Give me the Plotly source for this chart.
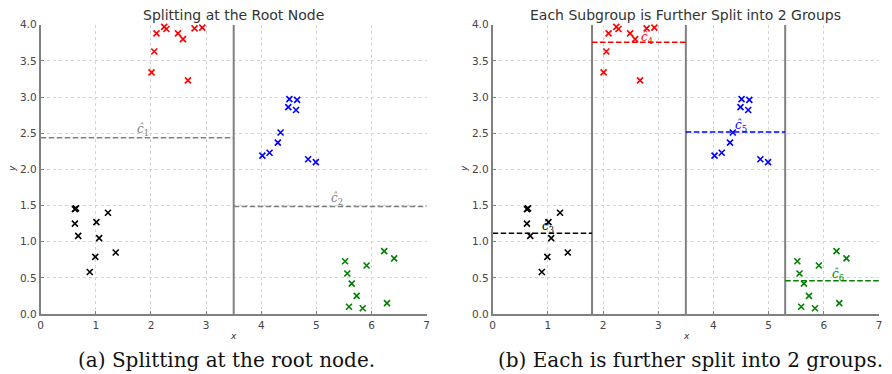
import numpy as np
import plotly.graph_objects as go

# ---- data ----
red_x = [2.01, 2.06, 2.10, 2.24, 2.28, 2.49, 2.58, 2.67, 2.79, 2.93]
red_y = [3.34, 3.63, 3.88, 3.97, 3.94, 3.88, 3.80, 3.23, 3.95, 3.96]
blue_x = [4.02, 4.15, 4.30, 4.35, 4.51, 4.65, 4.49, 4.63, 4.85, 4.99]
blue_y = [2.19, 2.23, 2.37, 2.51, 2.97, 2.96, 2.86, 2.82, 2.14, 2.10]
black_x = [0.62, 0.64, 0.62, 0.68, 1.01, 1.06, 1.22, 0.99, 0.89, 1.36]
black_y = [1.45, 1.46, 1.25, 1.08, 1.27, 1.05, 1.40, 0.79, 0.58, 0.85]
green_x = [5.52, 5.56, 5.64, 5.73, 5.59, 5.84, 5.91, 6.23, 6.41, 6.28]
green_y = [0.73, 0.56, 0.42, 0.25, 0.10, 0.08, 0.67, 0.87, 0.77, 0.15]

root_split = 3.5
child_splits = [1.8, 5.3]
x_ticks = [0, 1, 2, 3, 4, 5, 6, 7]
y_ticks = [0.0, 0.5, 1.0, 1.5, 2.0, 2.5, 3.0, 3.5, 4.0]
titles = ["Splitting at the Root Node", "Each Subgroup is Further Split into 2 Groups"]
captions = ["(a) Splitting at the root node.", "(b) Each is further split into 2 groups."]

# derived region means
c1 = float(np.mean(red_y + black_y))
c2 = float(np.mean(blue_y + green_y))
c3 = float(np.mean(black_y))
c4 = float(np.mean(red_y))
c5 = float(np.mean(blue_y))
c6 = float(np.mean(green_y))

fig = go.Figure()

groups = [(red_x, red_y, "#ff0000"), (blue_x, blue_y, "#0000ff"),
          (black_x, black_y, "#000000"), (green_x, green_y, "#008000")]

DASH = "5.5px,2.5px"

def vline(x, xa, ya):
    fig.add_trace(go.Scatter(x=[x, x], y=[0, 4], mode="lines", xaxis=xa, yaxis=ya,
                             line=dict(color="#808080", width=2),
                             showlegend=False, hoverinfo="skip"))

def hline(x0, x1, y, col, xa, ya):
    fig.add_trace(go.Scatter(x=[x0, x1], y=[y, y], mode="lines", xaxis=xa, yaxis=ya,
                             line=dict(color=col, width=1.5, dash=DASH),
                             showlegend=False, hoverinfo="skip"))

# left panel
vline(root_split, "x", "y")
hline(0, root_split, c1, "#808080", "x", "y")
hline(root_split, 7, c2, "#808080", "x", "y")
# right panel
vline(child_splits[0], "x2", "y2")
vline(root_split, "x2", "y2")
vline(child_splits[1], "x2", "y2")
hline(0, child_splits[0], c3, "#000000", "x2", "y2")
hline(child_splits[0], root_split, c4, "#ff0000", "x2", "y2")
hline(root_split, child_splits[1], c5, "#0000ff", "x2", "y2")
hline(child_splits[1], 7, c6, "#008000", "x2", "y2")

for ax in ["", "2"]:
    xa, ya = "x" + ax, "y" + ax
    for gx, gy, col in groups:
        fig.add_trace(go.Scatter(x=gx, y=gy, mode="markers", xaxis=xa, yaxis=ya,
                                 marker=dict(symbol="x-thin", size=6,
                                             line=dict(width=1.6, color=col), color=col),
                                 showlegend=False, hoverinfo="skip", cliponaxis=False))

# page has an 8px body margin: figure is 884x366 placed at (8, 8)
OFF = 8
W, H = 892 - OFF, 374 - OFF

def px(x):
    return (x - OFF) / W

def py(y):
    return 1 - (y - OFF) / H

axis_common = dict(showline=True, linecolor="#808080", linewidth=2, mirror=False,
                   ticks="inside", ticklen=3, tickcolor="#808080",
                   showgrid=True, gridcolor="#d4d4d4", griddash="dot", gridwidth=1,
                   zeroline=False, automargin=False,
                   tickfont=dict(family="DejaVu Sans", size=10.5, color="#444444"))
ydom = [py(314), py(24.7)]
fig.update_layout(
    width=W, height=H, margin=dict(l=0, r=0, t=0, b=0, pad=0, autoexpand=False),
    paper_bgcolor="white", plot_bgcolor="white",
    xaxis=dict(domain=[px(40.7), px(426.7)], range=[0, 7], tickvals=x_ticks,
               ticktext=[str(v) for v in x_ticks], anchor="y", **axis_common),
    yaxis=dict(domain=ydom, range=[0, 4], tickvals=y_ticks,
               ticktext=[f"{v:.1f}" for v in y_ticks], anchor="x", **axis_common),
    xaxis2=dict(domain=[px(492.7), px(879)], range=[0, 7], tickvals=x_ticks,
                ticktext=[str(v) for v in x_ticks], anchor="y2", **axis_common),
    yaxis2=dict(domain=ydom, range=[0, 4], tickvals=y_ticks,
                ticktext=[f"{v:.1f}" for v in y_ticks], anchor="x2", **axis_common),
)

ann = []
# titles
for t, cx in zip(titles, [233.7, 685.8]):
    ann.append(dict(text=t, xref="paper", yref="paper", x=px(cx), y=py(15),
                    showarrow=False, xanchor="center", yanchor="middle", borderpad=0,
                    font=dict(family="DejaVu Sans", size=14, color="#333333")))
# axis labels
for cx in [233.0, 686.0]:
    ann.append(dict(text="<i>x</i>", xref="paper", yref="paper", x=px(cx), y=py(336),
                    showarrow=False, xanchor="center", yanchor="middle",
                    font=dict(family="DejaVu Sans", size=9, color="#333333")))
for cx in [12.0, 464.0]:
    ann.append(dict(text="<i>y</i>", xref="paper", yref="paper", x=px(cx), y=py(169),
                    showarrow=False, xanchor="center", yanchor="middle", textangle=-90,
                    font=dict(family="DejaVu Sans", size=9, color="#333333")))
# captions
for t, cx in zip(captions, [226.0, 690.0]):
    ann.append(dict(text=t, xref="paper", yref="paper", x=px(cx), y=py(360),
                    showarrow=False, xanchor="center", yanchor="middle",
                    font=dict(family="DejaVu Serif", size=20, color="#111111")))
# c-hat labels
labels = [("x", "y", 1.85, c1 + 0.1, "1", "#808080"),
          ("x", "y", 5.37, c2 + 0.1, "2", "#808080"),
          ("x2", "y2", 1.01, c3 + 0.08, "3", "#000000"),
          ("x2", "y2", 2.80, c4 + 0.06, "4", "#ff0000"),
          ("x2", "y2", 4.50, c5 + 0.08, "5", "#0000ff"),
          ("x2", "y2", 6.26, c6 + 0.08, "6", "#008000")]
for xa, ya, lx, ly, sub, col in labels:
    ann.append(dict(text=f"<i>ĉ</i><sub>{sub}</sub>", xref=xa, yref=ya, x=lx, y=ly,
                    showarrow=False, xanchor="center", yanchor="middle",
                    font=dict(family="DejaVu Serif", size=12, color=col)))
fig.update_layout(annotations=ann)

fig.write_html("out.html")
